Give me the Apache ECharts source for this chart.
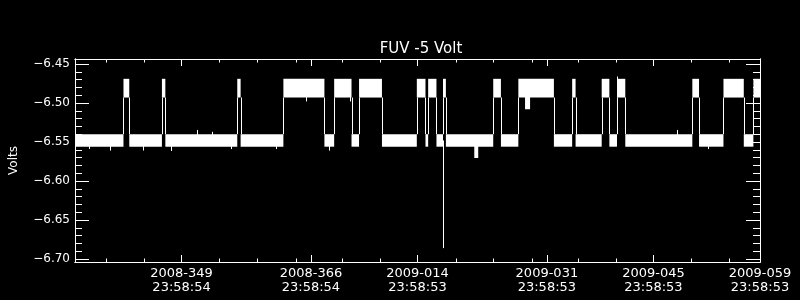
<!DOCTYPE html>
<html>
<head>
<meta charset="utf-8">
<script src="https://cdn.jsdelivr.net/npm/echarts@6/dist/echarts.min.js"></script>
<style>
html,body{margin:0;padding:0;background:#000;}
#chart{width:800px;height:300px;}
</style>
</head>
<body>
<div id="chart"></div>
<script>
// ---- Data (x in days since 2008-335 23:58:54) ----
const titleText = 'FUV -5 Volt';
const yName = 'Volts';
const xMin = 0, xMax = 90;
const yMin = -6.7038, yMax = -6.4436;

// major x ticks (days) and their labels
const xMajorDays = [14, 31, 45, 62, 76, 90];
const xMajorLabels = ['2008-349\n23:58:54', '2008-366\n23:58:54', '2009-014\n23:58:53',
                      '2009-031\n23:58:53', '2009-045\n23:58:53', '2009-059\n23:58:53'];
const xMinorDays = [4.09, 9.07, 19.0, 23.98, 29.08, 35.15, 40.12, 50.07, 54.98, 60.09, 66.1, 71.08, 81.02, 85.99];

const yMajorTicks = [-6.70, -6.65, -6.60, -6.55, -6.50, -6.45];
const yMinorTicks = [-6.69, -6.68, -6.67, -6.66, -6.64, -6.63, -6.62, -6.61, -6.59, -6.58, -6.57, -6.56,
                     -6.54, -6.53, -6.52, -6.51, -6.49, -6.48, -6.47, -6.46];

// levels: the voltage toggles between two noisy bands (min/max envelope)
const levelTop    = { H: -6.469, L: -6.540 };
const levelBottom = { H: -6.493, L: -6.556 };

// segments: start day and level
const segStart = [0, 6.37, 7.13, 11.42, 11.87, 21.32, 21.76, 27.38, 32.77, 34.05, 36.33, 37.32, 40.33,
                  44.91, 46.05, 46.40, 47.49, 48.35, 48.73, 54.95, 55.96, 58.25, 62.92, 65.32, 65.77,
                  69.20, 70.21, 71.21, 72.30, 81.11, 81.99, 85.20, 87.87, 89.13];
const segLevel = ['L','H','L','H','L','H','L','H','L','H','L','H','L',
                  'H','L','H','L','H','L','H','L','H','L','H','L',
                  'H','L','H','L','H','L','H','L','H'];

// isolated spikes: day, extreme value
const spikeDays   = [1.83, 4.58, 8.9, 12.56, 20.54, 26.39, 33.32, 83.11, 16.0, 18.05, 79.1, 30.29, 36.07, 48.31, 71.26];
const spikeValues = [-6.559, -6.561, -6.561, -6.5615, -6.559, -6.559, -6.561, -6.559, -6.5346, -6.537, -6.5346, -6.498, -6.498, -6.686, -6.466];

// short dips: start day, end day, extreme value
const dipStart = [52.46, 59.13];
const dipEnd   = [52.98, 59.79];
const dipValue = [-6.5705, -6.508];

// ---- Build series data ----
function levelAt(d) {
  let lv = segLevel[0];
  for (let i = 0; i < segStart.length; i++) { if (segStart[i] <= d) lv = segLevel[i]; }
  return lv;
}
function midAt(d) { const lv = levelAt(d); return (levelTop[lv] + levelBottom[lv]) / 2; }

const bandData = segStart.map((s, i) => {
  const e = i + 1 < segStart.length ? segStart[i + 1] : xMax;
  const lv = segLevel[i];
  let linkFrom = null, linkTo = null;
  if (i > 0) {
    const pv = segLevel[i - 1];
    if (pv !== lv) {
      if (levelTop[pv] > levelTop[lv]) { linkFrom = levelBottom[pv]; linkTo = levelTop[lv]; }
      else { linkFrom = levelTop[pv]; linkTo = levelBottom[lv]; }
    }
  }
  return [s, e, levelTop[lv], levelBottom[lv], linkFrom, linkTo];
});
const spikeData = spikeDays.map((d, i) => [d, spikeValues[i], midAt(d)]);
const dipData = dipStart.map((d, i) => [d, dipEnd[i], dipValue[i], midAt(d)]);

const white = '#ffffff';
const font = 'DejaVu Sans';

function renderBand(params, api) {
  const p0 = api.coord([api.value(0), api.value(2)]);
  const p1 = api.coord([api.value(1), api.value(3)]);
  const children = [{
    type: 'rect',
    shape: { x: p0[0], y: p0[1], width: Math.max(p1[0] - p0[0], 1), height: p1[1] - p0[1] },
    style: { fill: white }
  }];
  const lf = api.value(4), lt = api.value(5);
  if (!isNaN(lf) && !isNaN(lt) && lf !== null) {
    const a = api.coord([api.value(0), lf]);
    const b = api.coord([api.value(0), lt]);
    const x = Math.round(a[0]) + 0.5;
    children.push({ type: 'line', shape: { x1: x, y1: a[1], x2: x, y2: b[1] }, style: { stroke: white, lineWidth: 1 } });
  }
  return { type: 'group', children: children };
}
function renderSpike(params, api) {
  const a = api.coord([api.value(0), api.value(2)]);
  const b = api.coord([api.value(0), api.value(1)]);
  const x = Math.round(a[0]) + 0.5;
  return { type: 'line', shape: { x1: x, y1: a[1], x2: x, y2: b[1] }, style: { stroke: white, lineWidth: 1 } };
}
function renderDip(params, api) {
  const a = api.coord([api.value(0), api.value(3)]);
  const b = api.coord([api.value(1), api.value(2)]);
  return { type: 'rect', shape: { x: a[0], y: Math.min(a[1], b[1]), width: Math.max(b[0] - a[0], 1), height: Math.abs(b[1] - a[1]) }, style: { fill: white } };
}

function xAxisDef(pos, values, len, withLabels) {
  return {
    type: 'value', position: pos, min: xMin, max: xMax,
    axisLine: { show: true, onZero: false, lineStyle: { color: white, width: 1 } },
    axisTick: { show: true, inside: true, length: len, customValues: values, lineStyle: { color: white, width: 1 } },
    axisLabel: withLabels ? {
      show: true, customValues: xMajorDays, color: white, fontFamily: font, fontSize: 13, lineHeight: 14, margin: 5,
      formatter: function (v) { const i = xMajorDays.indexOf(v); return i >= 0 ? xMajorLabels[i] : ''; }
    } : { show: false },
    splitLine: { show: false }
  };
}
function yAxisDef(pos, values, len, withLabels) {
  const ax = {
    type: 'value', position: pos, min: yMin, max: yMax,
    axisLine: { show: true, onZero: false, lineStyle: { color: white, width: 1 } },
    axisTick: { show: true, inside: true, length: len, customValues: values, lineStyle: { color: white, width: 1 } },
    axisLabel: withLabels ? {
      show: true, customValues: yMajorTicks, color: white, fontFamily: font, fontSize: 12, margin: 5,
      formatter: function (v) { return v.toFixed(2).replace('-', '\u2212'); }
    } : { show: false },
    splitLine: { show: false }
  };
  if (withLabels) {
    ax.name = yName; ax.nameLocation = 'middle'; ax.nameRotate = 90; ax.nameGap = 55;
    ax.nameTextStyle = { color: white, fontFamily: font, fontSize: 12 };
  }
  return ax;
}

const chart = echarts.init(document.getElementById('chart'), null, { renderer: 'canvas' });
chart.setOption({
  backgroundColor: '#000000',
  animation: false,
  title: {
    text: titleText, left: 416, top: 37, textAlign: 'center',
    textStyle: { color: white, fontFamily: font, fontSize: 15, fontWeight: 'normal' }
  },
  grid: { left: 72, right: 40, top: 59, bottom: 38, containLabel: false },
  xAxis: [
    xAxisDef('bottom', xMajorDays, 7, true),
    xAxisDef('bottom', xMinorDays, 3.5, false),
    xAxisDef('top', xMajorDays, 7, false),
    xAxisDef('top', xMinorDays, 3.5, false)
  ],
  yAxis: [
    yAxisDef('left', yMajorTicks, 14, true),
    yAxisDef('left', yMinorTicks, 7, false),
    yAxisDef('right', yMajorTicks, 14, false),
    yAxisDef('right', yMinorTicks, 7, false)
  ],
  series: [
    { type: 'custom', name: 'bands', xAxisIndex: 0, yAxisIndex: 0, renderItem: renderBand, data: bandData, silent: true },
    { type: 'custom', name: 'spikes', xAxisIndex: 0, yAxisIndex: 0, renderItem: renderSpike, data: spikeData, silent: true },
    { type: 'custom', name: 'dips', xAxisIndex: 0, yAxisIndex: 0, renderItem: renderDip, data: dipData, silent: true }
  ]
});
</script>
</body>
</html>
